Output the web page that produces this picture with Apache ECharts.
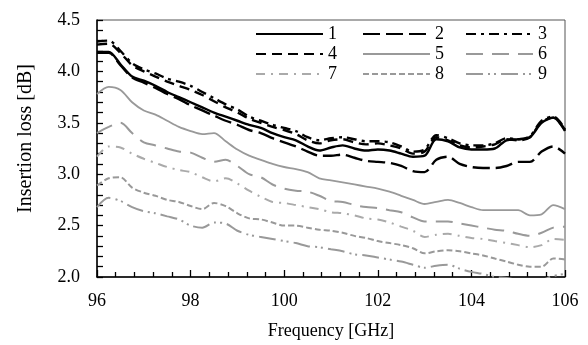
<!DOCTYPE html>
<html><head><meta charset="utf-8">
<script src="https://cdn.jsdelivr.net/npm/echarts@6/dist/echarts.min.js"></script>
<style>html,body{margin:0;padding:0;background:#fff}#c{width:588px;height:345px}</style>
</head><body><div id="c"></div>
<script>
const freq = [96,96.25,96.5,96.75,97,97.25,97.5,97.75,98,98.25,98.5,98.75,99,99.25,99.5,99.75,100,100.25,100.5,100.75,101,101.25,101.5,101.75,102,102.25,102.5,102.75,103,103.25,103.5,103.75,104,104.25,104.5,104.75,105,105.25,105.5,105.75,106];
const s1 = [4.19,4.19,4.07,3.95,3.91,3.86,3.80,3.75,3.70,3.65,3.60,3.56,3.52,3.48,3.45,3.40,3.36,3.33,3.27,3.23,3.26,3.28,3.25,3.23,3.24,3.23,3.20,3.17,3.18,3.34,3.32,3.26,3.24,3.24,3.25,3.33,3.34,3.36,3.50,3.55,3.42];
const s2 = [4.18,4.18,4.06,3.94,3.89,3.84,3.78,3.73,3.67,3.62,3.57,3.52,3.48,3.43,3.40,3.35,3.31,3.27,3.22,3.18,3.18,3.19,3.16,3.13,3.12,3.11,3.08,3.03,3.02,3.14,3.17,3.10,3.07,3.06,3.06,3.08,3.12,3.12,3.22,3.27,3.20];
const s3 = [4.29,4.30,4.20,4.08,4.02,3.98,3.93,3.90,3.86,3.80,3.74,3.68,3.63,3.56,3.52,3.48,3.45,3.42,3.36,3.33,3.35,3.36,3.34,3.32,3.32,3.31,3.27,3.22,3.24,3.38,3.35,3.30,3.28,3.28,3.30,3.35,3.34,3.37,3.52,3.56,3.44];
const s4 = [4.26,4.27,4.18,4.06,4.00,3.95,3.90,3.86,3.82,3.77,3.71,3.65,3.60,3.54,3.50,3.46,3.43,3.39,3.33,3.30,3.33,3.34,3.31,3.29,3.30,3.28,3.25,3.20,3.22,3.36,3.33,3.28,3.26,3.27,3.29,3.34,3.33,3.36,3.51,3.55,3.43];
const s5 = [3.78,3.85,3.82,3.70,3.62,3.58,3.52,3.46,3.42,3.39,3.40,3.32,3.24,3.18,3.14,3.10,3.07,3.05,3.02,2.96,2.94,2.92,2.90,2.88,2.86,2.83,2.79,2.75,2.71,2.73,2.75,2.72,2.68,2.65,2.65,2.65,2.65,2.60,2.61,2.70,2.66];
const s6 = [3.40,3.46,3.50,3.40,3.31,3.28,3.25,3.22,3.21,3.16,3.12,3.14,3.08,3.00,2.97,2.90,2.86,2.84,2.83,2.79,2.74,2.73,2.70,2.68,2.67,2.65,2.63,2.58,2.54,2.54,2.54,2.52,2.50,2.48,2.46,2.45,2.42,2.40,2.43,2.48,2.49];
const s7 = [3.17,3.27,3.26,3.20,3.15,3.11,3.07,3.04,3.02,2.97,2.93,2.96,2.91,2.84,2.78,2.73,2.72,2.70,2.68,2.66,2.63,2.62,2.60,2.57,2.56,2.53,2.49,2.45,2.39,2.41,2.42,2.40,2.38,2.37,2.35,2.33,2.31,2.29,2.31,2.37,2.36];
const s8 = [2.89,2.96,2.97,2.87,2.82,2.79,2.75,2.73,2.69,2.66,2.72,2.69,2.62,2.57,2.56,2.53,2.50,2.50,2.48,2.46,2.45,2.43,2.40,2.38,2.35,2.33,2.31,2.28,2.23,2.25,2.26,2.25,2.23,2.21,2.18,2.15,2.12,2.10,2.10,2.18,2.17];
const s9 = [2.68,2.77,2.74,2.68,2.64,2.62,2.59,2.56,2.50,2.48,2.53,2.52,2.45,2.41,2.39,2.37,2.35,2.33,2.30,2.29,2.27,2.25,2.22,2.21,2.19,2.17,2.15,2.12,2.09,2.11,2.12,2.08,2.05,2.03,2.00,1.99,1.97,1.96,1.97,2.01,2.03];
const seriesNames = ['1','2','3','4','5','6','7','8','9'];
const seriesValues = [s1,s2,s3,s4,s5,s6,s7,s8,s9];
const styles = [
  {color:'#000', width:2.4, type:'solid'},
  {color:'#000', width:2.4, type:[17,6]},
  {color:'#000', width:2.4, type:[10,5,3,5]},
  {color:'#000', width:2.4, type:[10,6]},
  {color:'#999', width:1.8, type:'solid'},
  {color:'#999', width:2, type:[17,9]},
  {color:'#aaa', width:2, type:[9,6,2,6]},
  {color:'#999', width:2, type:[6,3]},
  {color:'#999', width:2, type:[17,5,2,4,2,5]}
];
const FONT = 'Liberation Serif';
const chart = echarts.init(document.getElementById('c'), null, {renderer:'canvas'});
const series = seriesNames.map((n,i)=>({
  name:n, type:'line', symbol:'none', showSymbol:false, smooth:0.3, clip:true,
  data: freq.map((f,j)=>[f, seriesValues[i][j]]),
  lineStyle:{color:styles[i].color, width:styles[i].width, type:styles[i].type},
  itemStyle:{color:styles[i].color},
  z: 10 - i
}));
function leg(names, left){
  return {orient:'vertical', left:left, top:25, itemWidth:67, itemHeight:12, itemGap:2,
    data:names, itemStyle:{opacity:0},
    textStyle:{fontFamily:FONT, fontSize:18, color:'#000'},
    padding:0, selectedMode:false};
}
chart.setOption({
  animation:false,
  backgroundColor:'#fff',
  grid:{left:97, right:23, top:20, bottom:66, show:true, borderColor:'#555', borderWidth:1},
  legend:[leg(['1','4','7'],255), leg(['2','5','8'],362), leg(['3','6','9'],465)],
  xAxis:{type:'value', min:96, max:106, interval:2,
    name:'Frequency [GHz]', nameLocation:'middle', nameGap:45,
    nameTextStyle:{fontFamily:FONT, fontSize:18, color:'#000'},
    axisLine:{lineStyle:{color:'#000', width:1.5}},
    axisTick:{inside:true, length:7, lineStyle:{color:'#000', width:1.3}},
    minorTick:{show:true, splitNumber:5, length:5, lineStyle:{color:'#000', width:1.3}},
    splitLine:{show:false},
    axisLabel:{fontFamily:FONT, fontSize:18, color:'#000', margin:15}
  },
  yAxis:{type:'value', min:2.0, max:4.5, interval:0.5,
    name:'Insertion loss [dB]', nameLocation:'middle', nameGap:61,
    nameTextStyle:{fontFamily:FONT, fontSize:20, color:'#000', padding:[0,0,0,20]},
    axisLine:{show:true, lineStyle:{color:'#000', width:1.5}},
    axisTick:{show:true, inside:true, length:6, lineStyle:{color:'#000', width:1.3}},
    minorTick:{show:true, splitNumber:5, length:6, lineStyle:{color:'#000', width:1.3}},
    splitLine:{show:false},
    axisLabel:{fontFamily:FONT, fontSize:18, color:'#000', margin:17, formatter:v=>v.toFixed(1)}
  },
  series:series
});
</script></body></html>
